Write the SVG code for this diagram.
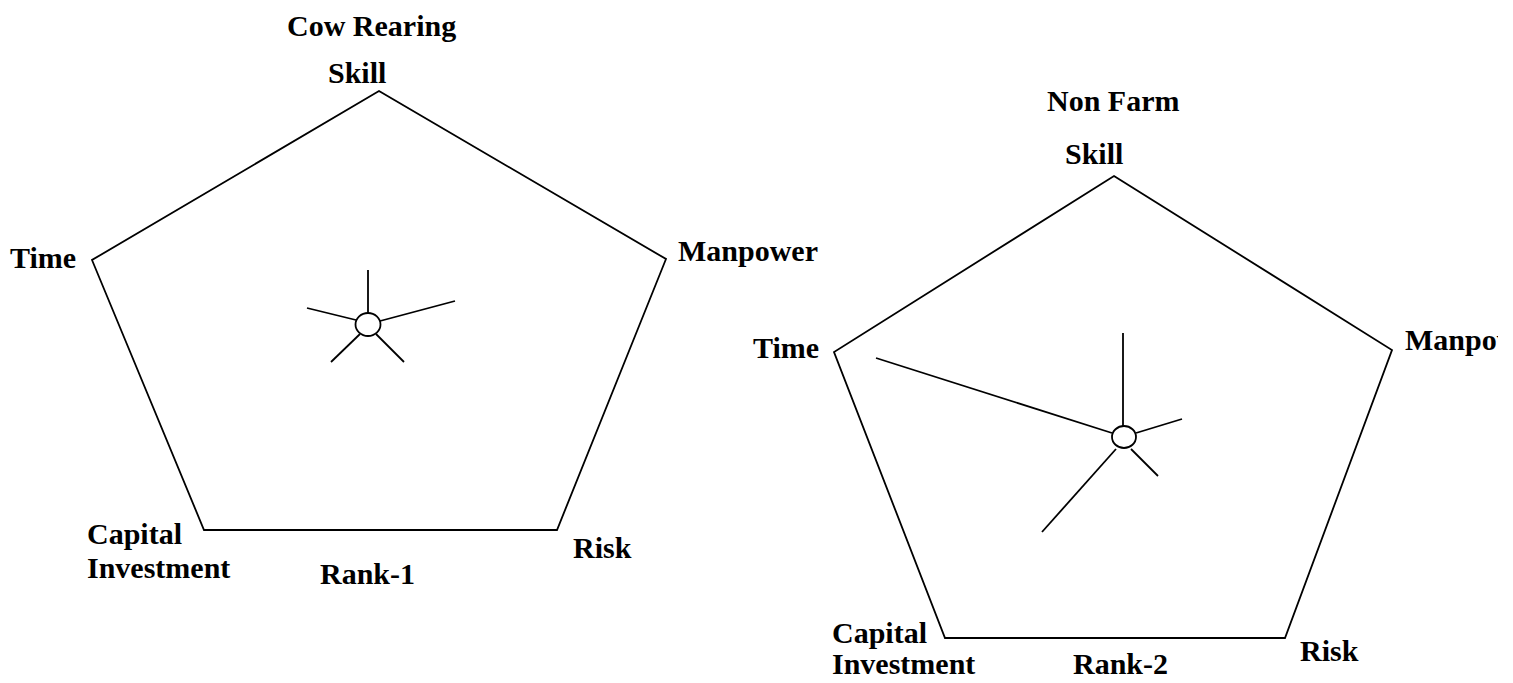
<svg xmlns="http://www.w3.org/2000/svg" width="1513" height="683" viewBox="0 0 1513 683">
  <style>
    .edge { fill: none; stroke: #000; stroke-width: 1.8; stroke-linejoin: miter; }
    .spoke { stroke: #000; stroke-width: 1.8; stroke-linecap: butt; }
    .hub { fill: #fff; stroke: #000; stroke-width: 1.8; }
    .lbl { font-family: "Liberation Serif", "Times New Roman", serif; font-weight: bold; font-size: 30px; fill: #000; }
  </style>
  <defs>
    <!-- the page ends just short of the right border, trimming the last label -->
    <clipPath id="pageClip">
      <rect x="0" y="0" width="1498" height="683"/>
    </clipPath>
  </defs>
  <rect width="1513" height="683" fill="#fff"/>

  <!-- Left chart: Cow Rearing -->
  <g id="chart-cow-rearing">
    <g id="frame-1">
      <polygon class="edge" points="379,91 666,259 557,530 204,530 92,260"/>
    </g>
    <g id="labels-1">
      <text class="lbl" x="287" y="36">Cow Rearing</text>
      <text class="lbl" x="328" y="83">Skill</text>
      <text class="lbl" x="10" y="268">Time</text>
      <text class="lbl" x="678" y="261">Manpower</text>
      <text class="lbl" x="87" y="544">Capital</text>
      <text class="lbl" x="87" y="578">Investment</text>
      <text class="lbl" x="320" y="584">Rank-1</text>
      <text class="lbl" x="573" y="558">Risk</text>
    </g>
    <g id="connectors-1">
      <line class="spoke" x1="368" y1="313" x2="368" y2="270"/>
      <line class="spoke" x1="380" y1="321" x2="455" y2="301"/>
      <line class="spoke" x1="356" y1="320" x2="307" y2="308"/>
      <line class="spoke" x1="360" y1="334" x2="331" y2="362"/>
      <line class="spoke" x1="376" y1="334" x2="404" y2="362"/>
    </g>
    <g id="hub-1">
      <ellipse class="hub" cx="368" cy="324.5" rx="12.5" ry="11.5"/>
    </g>
  </g>

  <!-- Right chart: Non Farm -->
  <g id="chart-non-farm">
    <g id="frame-2">
      <polygon class="edge" points="1114,176 1392,350 1285,638 945,638 834,352"/>
    </g>
    <g id="labels-2" clip-path="url(#pageClip)">
      <text class="lbl" x="1047" y="111">Non Farm</text>
      <text class="lbl" x="1065" y="164">Skill</text>
      <text class="lbl" x="753" y="358">Time</text>
      <text class="lbl" x="1405" y="350">Manpower</text>
      <text class="lbl" x="832" y="643">Capital</text>
      <text class="lbl" x="832" y="674">Investment</text>
      <text class="lbl" x="1073" y="674">Rank-2</text>
      <text class="lbl" x="1300" y="661">Risk</text>
    </g>
    <g id="connectors-2">
      <line class="spoke" x1="1123" y1="426" x2="1123" y2="333"/>
      <line class="spoke" x1="1136" y1="433" x2="1182" y2="419"/>
      <line class="spoke" x1="1112" y1="433" x2="876" y2="358"/>
      <line class="spoke" x1="1116" y1="449" x2="1042" y2="532"/>
      <line class="spoke" x1="1131" y1="449" x2="1158" y2="476"/>
    </g>
    <g id="hub-2">
      <ellipse class="hub" cx="1124" cy="437" rx="12" ry="11"/>
    </g>
  </g>
</svg>
